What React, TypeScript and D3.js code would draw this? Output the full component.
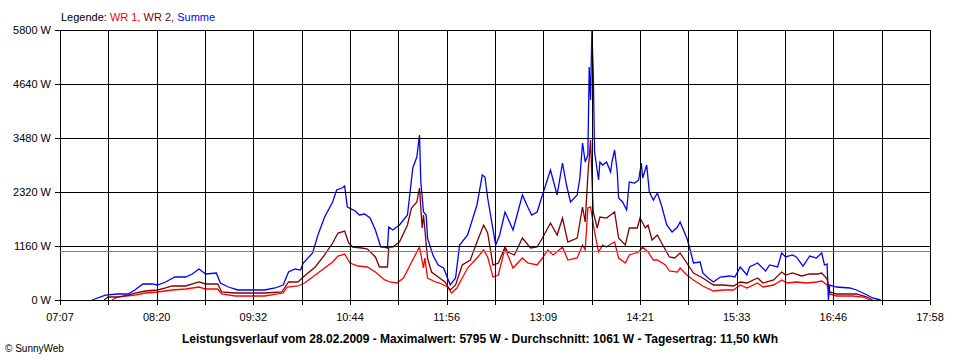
import React from "react";
import * as d3 from "d3";

// time in minutes after midnight, power in W
const wr1Time = [466,470,483,491,500,511,521,531,536,545,548,558,580,594,597,605,610,620,631,635,640,644,650,657,663,670,674,679,684,689,694,696,699,700,702,708,711,717,720,724,728,732,739,744,747,751,755,760,762,766,773,777,784,788,792,796,803,807,814,818,820,822,824,827,830,833,836,839,842,845,850,853,860,863,867,871,874,880,883,889,891,896,901,908,916,923,931,936,941,949,953,961,967,971,978,986,993,997,1001,1003,1008,1020,1028,1033];
const wr1Power = [0,64,107,150,172,215,236,279,236,236,129,86,86,150,279,301,365,580,816,945,988,795,730,709,601,430,387,365,473,752,1031,1138,687,902,473,387,365,279,150,258,473,687,902,1074,924,494,537,1117,967,687,902,795,752,902,1074,967,1138,859,902,1181,1074,1976,2000,1461,1031,1181,1138,1203,1246,902,795,967,1031,1138,1031,859,859,752,623,601,687,537,430,301,193,215,215,322,258,365,279,322,430,365,387,365,387,408,322,129,86,86,64,0];

const wr2Time = [460,463,470,478,483,491,500,506,511,521,528,531,536,545,548,558,580,593,598,605,609,618,625,631,635,640,643,646,653,657,663,666,672,673,676,681,687,690,694,696,698,699,702,705,710,715,719,723,728,734,739,744,747,751,755,760,762,767,773,779,784,788,794,799,803,807,814,818,820,822,824,826,829,831,836,839,842,845,850,853,859,861,865,867,870,874,878,883,887,891,896,901,908,916,923,931,936,941,949,953,961,967,970,975,982,988,994,997,1001,1003,1008,1023,1031,1035];
const wr2Power = [0,64,64,107,150,193,215,258,301,301,365,387,344,344,172,150,150,172,387,387,494,709,967,1224,1439,1482,1224,1138,1117,1096,924,709,709,1138,1138,1246,1611,1976,2105,2406,1547,1826,902,601,494,387,215,322,752,859,1246,1611,1439,752,795,1138,1031,967,1332,1117,1138,1332,1654,1396,1761,1246,1332,1998,1676,2685,3437,1890,1547,1783,1761,1826,1890,1332,1181,1547,1547,1761,1547,1611,1289,1396,1181,924,902,1010,795,580,473,322,322,301,387,365,473,365,430,601,537,580,516,559,559,580,451,172,129,129,64,0];

const sumTime = [451,461,470,478,483,489,496,500,506,513,521,526,531,536,544,547,553,560,580,588,594,598,603,607,609,616,620,625,631,634,638,640,642,648,651,655,659,663,667,670,672,673,676,681,687,691,694,696,697,699,701,702,706,710,714,717,719,723,726,732,739,743,745,747,753,756,760,762,766,773,777,780,784,788,794,799,803,806,809,814,816,818,820,822,823,824,825,826,827,830,831,833,836,839,840,842,844,845,848,851,853,857,860,862,863,866,868,871,874,877,881,885,889,891,896,898,901,906,908,912,916,921,928,932,936,941,943,949,955,958,964,967,970,975,978,983,988,993,997,999,1001,1002,1003,1008,1018,1023,1031,1035,1041];
const sumPower = [0,107,129,129,215,344,344,322,387,494,494,559,666,559,580,365,279,215,215,258,322,601,666,644,795,1010,1396,1783,2105,2363,2406,2449,1998,1912,1826,1847,1761,1504,1138,1138,1117,1568,1504,1611,1826,2836,3072,3544,2535,1890,1826,1332,967,752,687,473,322,473,1181,1396,2041,2685,2642,2191,1181,1396,1890,1761,1504,2256,1998,1826,1890,2256,2793,2256,2943,2470,2105,2256,2621,3373,2964,3115,5005,4296,5795,4898,3179,2578,2964,2900,2964,2750,2964,3222,2750,2191,2105,1933,2535,2513,2578,2943,2621,2900,2320,2148,2298,2041,1611,1461,1568,1676,1332,1138,795,816,580,473,387,494,516,494,709,537,709,795,623,752,709,1010,924,967,924,730,945,902,1010,752,773,0,322,279,258,215,107,43,0];

const yTicks = [0, 1160, 2320, 3480, 4640, 5800];
const xTickLabels = ["07:07","08:20","09:32","10:44","11:56","13:09","14:21","15:33","16:46","17:58"];
const startMin = 427; // 07:07
const endMin = 1078; // 17:58
const average = 1061;
const titleText = "Leistungsverlauf vom 28.02.2009 - Maximalwert: 5795 W - Durchschnitt: 1061 W - Tagesertrag: 11,50 kWh";

const series = [
  { name: "WR 1", color: "#ff0000", t: wr1Time, v: wr1Power },
  { name: "WR 2", color: "#800000", t: wr2Time, v: wr2Power },
  { name: "Summe", color: "#0000ff", t: sumTime, v: sumPower },
];

export default function App() {
  const x = d3.scaleLinear().domain([startMin, endMin]).range([60, 930]);
  const y = d3.scaleLinear().domain([0, 5800]).range([300, 30]);
  const gridX = d3.range(19).map((i) => startMin + (i * (endMin - startMin)) / 18);
  const line = d3
    .line<[number, number]>()
    .x((d) => x(d[0]))
    .y((d) => y(d[1]));
  const font = "'Liberation Sans', Arial, sans-serif";

  return (
    <svg
      width={960}
      height={360}
      style={{ position: "absolute", left: 0, top: 0, background: "#fff" }}
      fontFamily={font}
    >
      <rect x={0} y={0} width={960} height={360} fill="#fff" />
      <text x={61} y={21} fontSize={11}>
        <tspan fill="#000">Legende: </tspan>
        <tspan fill="#ff0000">WR 1, </tspan>
        <tspan fill="#800000">WR 2, </tspan>
        <tspan fill="#0000ff">Summe</tspan>
      </text>
      {series.map((s) => (
        <path
          key={s.name}
          d={line(s.t.map((t, i) => [t, s.v[i]] as [number, number])) || ""}
          fill="none"
          stroke={s.color}
          strokeWidth={1.3}
          strokeLinejoin="miter"
        />
      ))}
      <g shapeRendering="crispEdges">
        {yTicks.map((v) => (
          <line key={v} x1={55} x2={930} y1={Math.round(y(v)) + 0.5} y2={Math.round(y(v)) + 0.5} stroke="#000" />
        ))}
        {gridX.map((t, i) => (
          <line key={i} x1={Math.round(x(t)) + 0.5} x2={Math.round(x(t)) + 0.5} y1={30} y2={305} stroke="#000" />
        ))}
        <line x1={60} x2={930} y1={Math.round(y(average)) + 0.5} y2={Math.round(y(average)) + 0.5} stroke="#808080" />
      </g>
      {yTicks.map((v) => (
        <text key={v} x={51} y={y(v) + 4} fontSize={11} textAnchor="end">
          {v + " W"}
        </text>
      ))}
      {xTickLabels.map((l, i) => (
        <text key={l} x={x(gridX[i * 2])} y={321} fontSize={11} textAnchor="middle">
          {l}
        </text>
      ))}
      <text x={480} y={343} fontSize={12} fontWeight="bold" textAnchor="middle">
        {titleText}
      </text>
      <text x={5} y={352} fontSize={10}>
        © SunnyWeb
      </text>
    </svg>
  );
}
